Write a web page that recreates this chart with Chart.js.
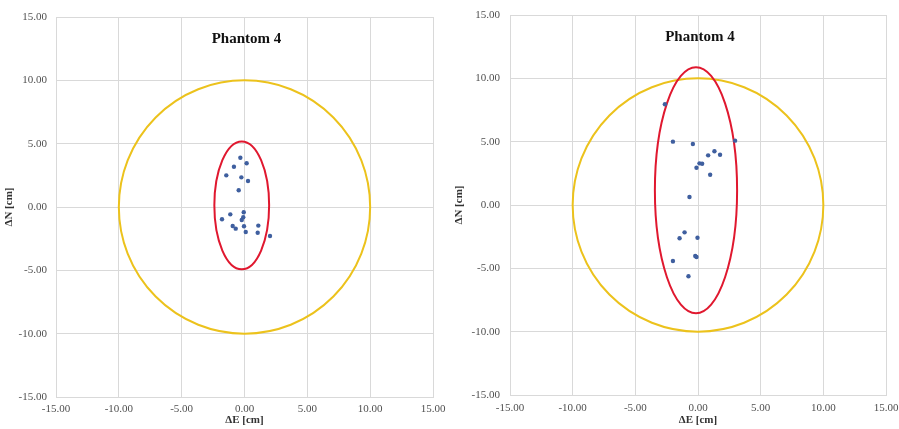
<!DOCTYPE html>
<html>
<head>
<meta charset="utf-8">
<script src="https://cdn.jsdelivr.net/npm/chart.js@4/dist/chart.umd.min.js"></script>
<style>
body { margin: 0; background: #fff; overflow: hidden; }
#leftBox { position: absolute; left: 0; top: 0; width: 450px; height: 429px; }
#rightBox { position: absolute; left: 450px; top: 0; width: 449px; height: 429px; }
</style>
</head>
<body>
<div id="leftBox"><canvas id="phantomLeft"></canvas></div>
<div id="rightBox"><canvas id="phantomRight"></canvas></div>
<script>
// axis ticks
var tickValues = [-15, -10, -5, 0, 5, 10, 15];

// left panel: deviations in cm
var leftE = [-0.33, 0.17, -0.84, -1.45, -0.25, 0.28, -0.46, -0.06, -0.10, -0.22, -1.13, -1.79, -0.94, -0.70, -0.04, 0.10, 1.10, 1.05, 2.03];
var leftN = [3.89, 3.45, 3.18, 2.50, 2.34, 2.05, 1.32, -0.42, -0.81, -1.03, -0.58, -0.97, -1.50, -1.71, -1.52, -1.97, -1.47, -2.03, -2.29];

// right panel
var rightE = [-2.64, -2.00, -0.41, 2.96, 0.81, 1.31, 1.76, 0.12, 0.33, -0.12, 0.97, -0.68, -1.07, -1.47, -0.04, -0.22, -0.12, -2.00, -0.76];
var rightN = [7.95, 5.00, 4.81, 5.08, 3.92, 4.24, 3.97, 3.29, 3.26, 2.94, 2.39, 0.63, -2.16, -2.63, -2.58, -4.03, -4.10, -4.42, -5.63];

// [centerE, centerN, radiusE, radiusN]
var toleranceCircle = [0, 0, 10, 10];
var leftEllipse = [-0.22, 0.13, 2.18, 5.05];
var rightEllipse = [-0.16, 1.16, 3.28, 9.71];

var chartTitle = 'Phantom 4';

var serif = '"Liberation Serif", "Times New Roman", serif';
var gridColor = '#d9d9d9';
var labelColor = '#505050';
var dotColor = '#3f5f9f';

function shapesPlugin(ellipse) {
    return {
        id: 'shapes',
        beforeDatasetsDraw: function (chart) {
            var ctx = chart.ctx;
            var sx = chart.scales.x, sy = chart.scales.y;
            function drawEllipse(e, color) {
                var cx = sx.getPixelForValue(e[0]);
                var cy = sy.getPixelForValue(e[1]);
                var rx = Math.abs(sx.getPixelForValue(e[0] + e[2]) - cx);
                var ry = Math.abs(sy.getPixelForValue(e[1] + e[3]) - cy);
                ctx.beginPath();
                ctx.ellipse(cx, cy, rx, ry, 0, 0, 2 * Math.PI);
                ctx.strokeStyle = color;
                ctx.lineWidth = 2;
                ctx.stroke();
            }
            ctx.save();
            drawEllipse(toleranceCircle, '#ecc21c');
            drawEllipse(ellipse, '#e0182f');
            // title sits inside the plot area
            var a = chart.chartArea;
            ctx.fillStyle = '#111';
            ctx.font = 'bold 15px ' + serif;
            ctx.textAlign = 'center';
            ctx.textBaseline = 'middle';
            ctx.fillText(chartTitle, (a.left + a.right) / 2 + 2, a.top + 22);
            ctx.restore();
        }
    };
}

function makeChart(id, xs, ys, ellipse, box) {
    var pts = xs.map(function (x, i) { return {x: x, y: ys[i]}; });
    return new Chart(document.getElementById(id), {
        type: 'scatter',
        data: {
            datasets: [{
                data: pts,
                backgroundColor: dotColor,
                borderColor: dotColor,
                pointRadius: 2.2,
                borderWidth: 0
            }]
        },
        options: {
            responsive: true,
            maintainAspectRatio: false,
            animation: false,
            layout: { padding: { left: 0, right: box.right, top: box.top, bottom: 0 } },
            plugins: {
                legend: { display: false },
                tooltip: { enabled: false }
            },
            scales: {
                x: {
                    type: 'linear',
                    min: -15,
                    max: 15,
                    afterBuildTicks: function (s) { s.ticks = tickValues.map(function (v) { return {value: v}; }); },
                    afterFit: function (s) {
                        s.height = box.xh;
                        s.paddingLeft = 0;
                        s.paddingRight = 0;
                    },
                    ticks: {
                        padding: box.xpad,
                        maxRotation: 0,
                        color: labelColor,
                        font: { family: serif, size: 11 },
                        callback: function (v) { return Number(v).toFixed(2); }
                    },
                    grid: { color: gridColor, drawTicks: false },
                    border: { color: gridColor },
                    title: {
                        display: true,
                        text: 'ΔE [cm]',
                        color: '#333',
                        font: { family: serif, size: 11, weight: 'bold' },
                        padding: { top: 0, bottom: 2 }
                    }
                },
                y: {
                    type: 'linear',
                    min: -15,
                    max: 15,
                    afterBuildTicks: function (s) { s.ticks = tickValues.map(function (v) { return {value: v}; }); },
                    afterFit: function (s) {
                        s.width = box.yw;
                        s.paddingTop = 0;
                        s.paddingBottom = 0;
                    },
                    ticks: {
                        padding: box.ypad,
                        color: labelColor,
                        font: { family: serif, size: 11 },
                        callback: function (v) { return Number(v).toFixed(2); }
                    },
                    grid: { color: gridColor, drawTicks: false },
                    border: { color: gridColor },
                    title: {
                        display: true,
                        text: 'ΔN [cm]',
                        color: '#333',
                        font: { family: serif, size: 11, weight: 'bold' },
                        padding: { top: 3, bottom: 0 }
                    }
                }
            }
        },
        plugins: [shapesPlugin(ellipse)]
    });
}

var chartLeft = makeChart('phantomLeft', leftE, leftN, leftEllipse,
    { yw: 56, xh: 32, right: 17, top: 17, xpad: 6, ypad: 9 });
var chartRight = makeChart('phantomRight', rightE, rightN, rightEllipse,
    { yw: 60, xh: 34, right: 13, top: 15, xpad: 7, ypad: 10 });
</script>
</body>
</html>
